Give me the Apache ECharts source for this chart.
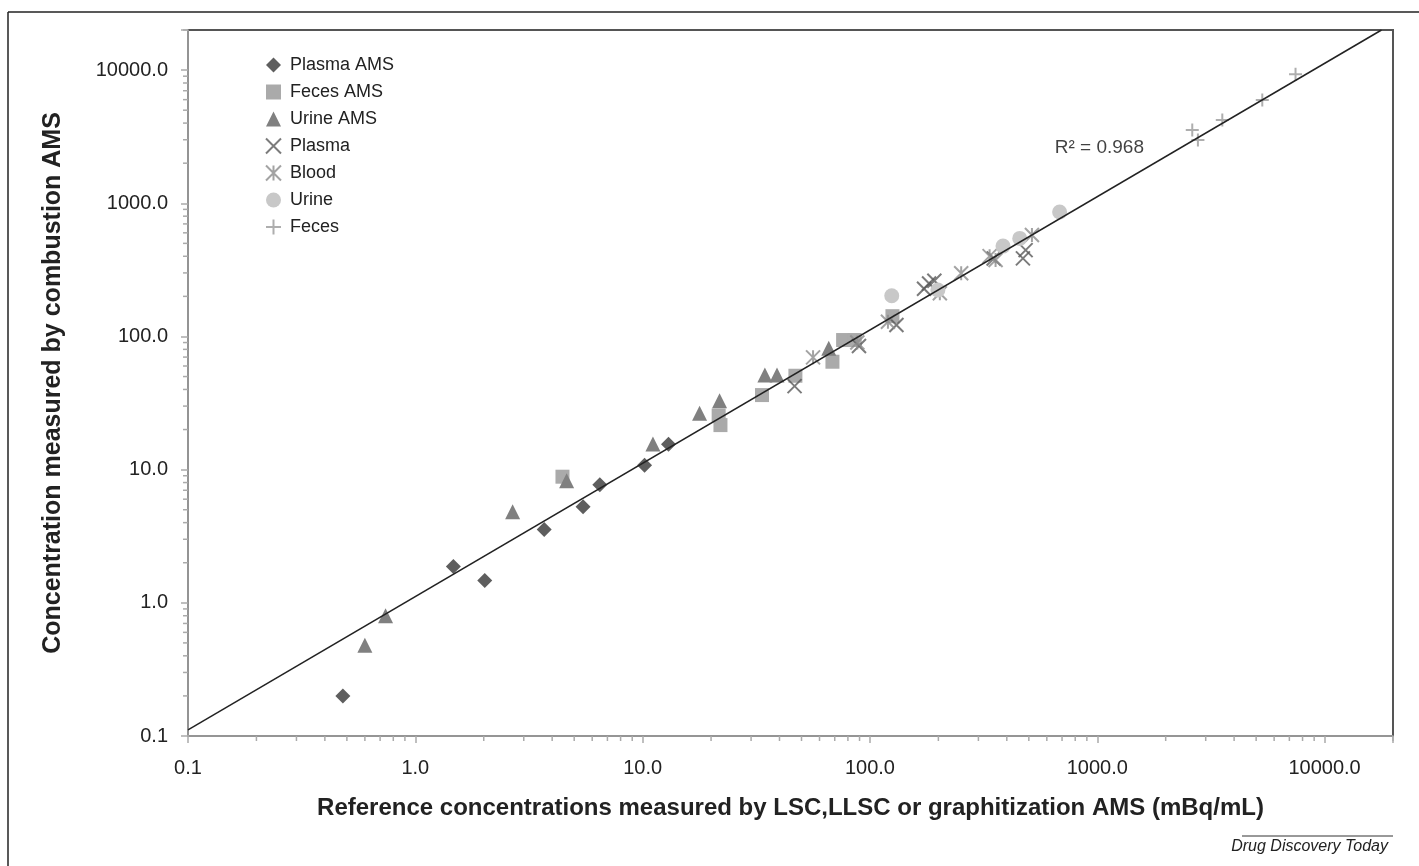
<!DOCTYPE html>
<html>
<head>
<meta charset="utf-8">
<script src="https://cdn.jsdelivr.net/npm/echarts@6/dist/echarts.min.js"></script>
<style>
  html, body { margin: 0; padding: 0; background: #fff; }
  #chart { width: 1419px; height: 866px; }
</style>
</head>
<body>
<div id="chart"></div>
<script>
// axis range and tick labels
const axisMin = 0.1;
const axisMax = 20000;
const tickValues = [0.1, 1, 10, 100, 1000, 10000];
const tickLabels = ['0.1', '1.0', '10.0', '100.0', '1000.0', '10000.0'];
const minorSteps = [2, 3, 4, 5, 6, 7, 8, 9];

// [reference, combustion AMS]
const plasmaAms = [[0.48, 0.2], [1.47, 1.87], [2.02, 1.47], [3.69, 3.56], [5.47, 5.27], [6.48, 7.7], [10.2, 10.8], [13.0, 15.5]];
const fecesAms = [[4.44, 8.85], [21.6, 25.5], [22.0, 21.6], [33.5, 36.3], [47.0, 50.7], [68.4, 64.6], [76.2, 94], [85.7, 94], [125.6, 142]];
const urineAms = [[0.6, 0.48], [0.74, 0.8], [2.68, 4.83], [4.63, 8.26], [11.1, 15.6], [17.8, 26.5], [21.8, 32.9], [34.5, 51.3], [39.0, 51.3], [65.9, 81.4]];
const plasma = [[46.6, 42.4], [89.5, 84.7], [130.8, 121.8], [173, 228], [182, 250], [192, 262], [350, 385], [471, 386], [484, 445]];
const blood = [[56.2, 69.7], [88, 90], [120, 129], [203, 211], [252, 298], [336, 401], [357, 375], [516, 577]];
const urine = [[124.7, 202], [199, 223], [385, 477], [456, 545], [683, 860]];
const feces = [[2618, 3545], [2772, 2981], [3549, 4213], [5321, 5953], [7452, 9290]];

// trendline end points and its label
const trendX = [0.1, 17800];
const trendY = [0.111, 20000];
const r2Label = 'R\u00b2 = 0.968';
const r2Pos = [650, 2594];

const font = '"Liberation Sans", Arial, Helvetica, sans-serif';

const minorTicks = [];
tickValues.forEach(d => {
  minorSteps.forEach(s => {
    const v = +(d * s).toPrecision(3);
    if (v < axisMax) minorTicks.push(v);
  });
});
minorTicks.push(axisMax);

function fmt(v) {
  for (let i = 0; i < tickValues.length; i++) {
    if (Math.abs(v - tickValues[i]) / tickValues[i] < 1e-6) return tickLabels[i];
  }
  return '';
}

function scatter(name, data, symbol, size, color, stroke) {
  return {
    name: name,
    type: 'scatter',
    data: data,
    symbol: symbol,
    symbolSize: size,
    itemStyle: stroke
      ? { color: 'rgba(0,0,0,0)', borderColor: color, borderWidth: 2 }
      : { color: color, opacity: 1 },
    emphasis: { disabled: true },
    z: 3,
  };
}

const chart = echarts.init(document.getElementById('chart'));

chart.setOption({
  animation: false,
  backgroundColor: '#fff',
  grid: {
    left: 188,
    right: 26,
    top: 30,
    bottom: 130,
    show: true,
    borderColor: '#555',
    borderWidth: 2,
    containLabel: false,
    outerBoundsMode: 'none',
  },
  legend: {
    orient: 'vertical',
    left: 260,
    top: 51,
    itemWidth: 15,
    itemHeight: 15,
    itemGap: 9,
    textStyle: { fontFamily: font, fontSize: 18, lineHeight: 18, color: '#222', padding: [0, 0, 0, 4] },
    data: ['Plasma AMS', 'Feces AMS', 'Urine AMS', 'Plasma', 'Blood', 'Urine', 'Feces'],
  },
  xAxis: {
    type: 'log',
    logBase: 10,
    min: axisMin,
    max: axisMax,
    name: 'Reference concentrations measured by LSC,LLSC or graphitization AMS (mBq/mL)',
    nameLocation: 'middle',
    nameGap: 60,
    nameTextStyle: { fontFamily: font, fontSize: 24, fontWeight: 'bold', color: '#222' },
    axisLine: { lineStyle: { color: '#aaa', width: 1.5 } },
    axisTick: { inside: false, length: 7, lineStyle: { color: '#aaa', width: 1.5 } },
    axisLabel: { margin: 22, fontFamily: font, fontSize: 20, color: '#222', formatter: fmt },
    splitLine: { show: false },
  },
  yAxis: {
    type: 'log',
    logBase: 10,
    min: axisMin,
    max: axisMax,
    name: 'Concentration measured by combustion AMS',
    nameLocation: 'middle',
    nameGap: 122,
    nameTextStyle: { fontFamily: font, fontSize: 25, fontWeight: 'bold', color: '#222' },
    axisLine: { lineStyle: { color: '#aaa', width: 1.5 } },
    axisTick: { inside: false, length: 7, lineStyle: { color: '#aaa', width: 1.5 } },
    axisLabel: { margin: 20, fontFamily: font, fontSize: 20, color: '#222', formatter: fmt },
    splitLine: { show: false },
  },
  series: [
    scatter('Plasma AMS', plasmaAms, 'diamond', 15, '#5e5e5e', false),
    scatter('Feces AMS', fecesAms, 'rect', 14, '#aaaaaa', false),
    scatter('Urine AMS', urineAms, 'triangle', 15, '#808080', false),
    scatter('Plasma', plasma, 'path://M0,0L10,10M10,0L0,10', 14, '#5a5a5a', true),
    scatter('Blood', blood, 'path://M0,0L10,10M10,0L0,10M5,0L5,10', 14, '#8c8c8c', true),
    scatter('Urine', urine, 'circle', 15, '#c8c8c8', false),
    scatter('Feces', feces, 'path://M5,0L5,10M0,5L10,5', 13, '#9a9a9a', true),
    {
      name: 'trend',
      type: 'line',
      data: trendX.map((x, i) => [x, trendY[i]]),
      symbol: 'none',
      lineStyle: { color: '#222', width: 1.5 },
      z: 5,
      silent: true,
    },
    {
      name: 'r2',
      type: 'scatter',
      data: [r2Pos],
      symbolSize: 0,
      silent: true,
      label: {
        show: true,
        position: 'right',
        distance: 0,
        formatter: r2Label,
        fontFamily: font,
        fontSize: 19,
        color: '#111',
      },
    },
    {
      name: 'xMinor',
      type: 'custom',
      silent: true,
      clip: false,
      data: minorTicks.map(v => [v, axisMin]),
      renderItem: (params, api) => {
        const p = api.coord([api.value(0), api.value(1)]);
        return {
          type: 'line',
          shape: { x1: p[0], y1: p[1], x2: p[0], y2: p[1] + 5 },
          style: { stroke: '#aaa', lineWidth: 1.5 },
        };
      },
    },
    {
      name: 'yMinor',
      type: 'custom',
      silent: true,
      clip: false,
      data: minorTicks.map(v => [axisMin, v]),
      renderItem: (params, api) => {
        const p = api.coord([api.value(0), api.value(1)]);
        return {
          type: 'line',
          shape: { x1: p[0], y1: p[1], x2: p[0] - 5, y2: p[1] },
          style: { stroke: '#aaa', lineWidth: 1.5 },
        };
      },
    },
  ],
  graphic: [
    { type: 'line', shape: { x1: 8, y1: 12, x2: 1419, y2: 12 }, style: { stroke: '#222', lineWidth: 1.5 } },
    { type: 'line', shape: { x1: 8, y1: 12, x2: 8, y2: 866 }, style: { stroke: '#222', lineWidth: 1.5 } },
    { type: 'line', shape: { x1: 1242, y1: 836, x2: 1393, y2: 836 }, style: { stroke: '#333', lineWidth: 1 } },
    {
      type: 'text',
      right: 31,
      top: 839,
      style: { text: 'Drug Discovery Today', font: 'italic 16px ' + font, fill: '#222' },
    },
  ],
});
</script>
</body>
</html>
